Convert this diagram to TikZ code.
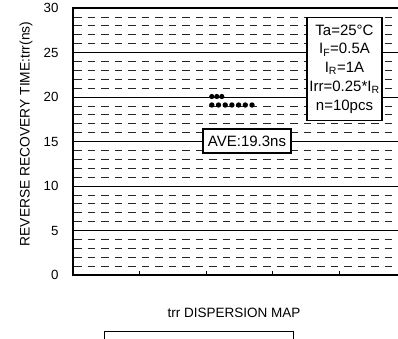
\documentclass[tikz,border=0pt]{standalone}
\usepackage{fontspec}
\setmainfont{Liberation Sans}
\usetikzlibrary{positioning}

\tikzset{
  frame/.style={line width=1.6pt},
  major/.style={line width=0.8pt},
  minor/.style={line width=0.8pt, black!85, dash pattern=on 7.5pt off 6pt},
  infobox/.style={draw, line width=1.1pt, fill=white, align=center,
    font=\fontsize{15}{18.8}\selectfont},
  ticklbl/.style={anchor=east, font=\fontsize{13.3}{15}\selectfont},
  dot/.style={fill=black}
}

\begin{document}
\begin{tikzpicture}[x=1pt,y=-1pt]
\useasboundingbox (0,0) rectangle (398,338);
% Grid: dashed every unit, solid every 5
\foreach \v in {0,5,...,25}
  \foreach \d in {1,2,3,4} {
    \pgfmathsetmacro{\yy}{275-8.9*(\v+\d)}
    \draw[minor] (74,\yy) -- (398,\yy);
  }
\foreach \v in {5,10,...,25} {
  \pgfmathsetmacro{\yy}{275-8.9*\v}
  \draw[major] (73,\yy) -- (398,\yy);
}
\draw[frame] (399,8) -- (73,8) -- (73,275) -- (399,275); % Axes
\foreach \x in {139.5,206,272.5,339} \draw[line width=0.6pt] (\x,275) -- (\x,271);
% Y ticks labels
\foreach \v in {0,5,...,30}
  \node[ticklbl] (y\v) at (62,{275-8.9*\v}) {\v};
\node[rotate=90, font=\fontsize{13.8}{16}\selectfont] (ytitle) at (26,134)
  {REVERSE RECOVERY TIME:trr(ns)};
% Data points
\foreach \i in {0,1,2} \fill[dot] ({211.8+5*\i},96.5) circle (2.6);
\foreach \i in {0,...,6} \fill[dot] ({211.8+6.7*\i},105) circle (2.7);
\node[infobox, minimum width=88pt, minimum height=24pt, inner sep=1pt] (ave) at (247,141) {AVE:19.3ns};
\node[infobox, minimum width=75pt, minimum height=103pt, inner sep=2pt] (cond) at (344.5,69)
  {Ta=25°C\\ I\textsubscript{F}=0.5A\\ I\textsubscript{R}=1A\\ Irr=0.25*I\textsubscript{R}\\ n=10pcs};
\node[font=\fontsize{13.5}{15}\selectfont] (xtitle) at (234,313) {trr DISPERSION MAP};
% Legend frame (cut off)
\draw[line width=0.8pt] (104,345) -- (104,331) -- (293,331) -- (293,345);
\end{tikzpicture}
\end{document}
